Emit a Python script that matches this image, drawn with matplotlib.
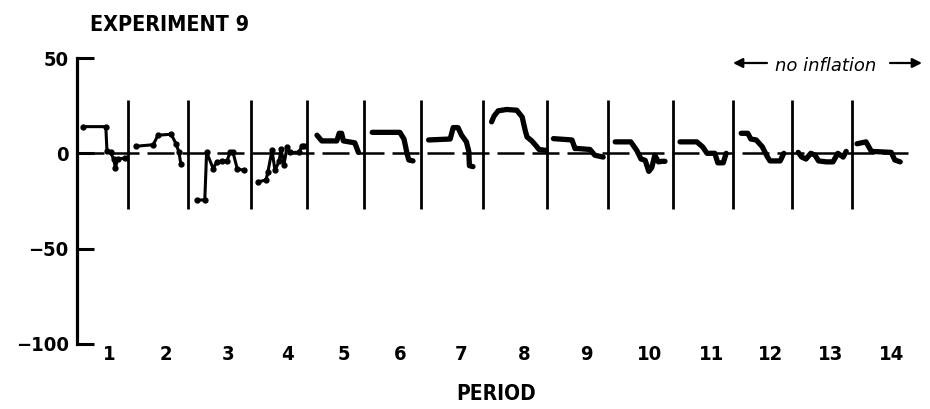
"""Experiment 9: price deviation traces per trading period (recreated figure)."""

import matplotlib
matplotlib.use("Agg")
import matplotlib.pyplot as plt  # noqa: E402
from matplotlib import font_manager  # noqa: E402
from matplotlib.font_manager import FontProperties  # noqa: E402

# ---------------------------------------------------------------------------
# Data
# ---------------------------------------------------------------------------

# period boundaries on the trading-time axis (start of period 1 ... end of 14)
BOUNDS = [0, 8.5, 18.5, 29.0, 38.4, 47.8, 57.3, 67.7, 78.3, 88.5,
          99.3, 109.3, 119.2, 129.2, 139.5]
PERIODS = [str(i) for i in range(1, 15)]

Y_TICKS = [50, 0, -50, -100]
Y_TICK_LABELS = ["50", "0", "\u221250", "\u2212100"]

# contract time / deviation from equilibrium, one pair per period
T_1 = [1.0, 4.8, 5.0, 5.6, 6.1, 6.4, 6.8, 8.0]
V_1 = [14, 14, 1, 0.5, -3, -7.5, -3, -2.5]
T_2 = [9.8, 12.7, 13.5, 15.7, 16.5, 17.0, 17.3]
V_2 = [3.7, 4.5, 9.5, 10, 5, 0.5, -5.5]
T_3 = [20.0, 21.3, 21.6, 22.7, 23.3, 24.2, 25.0, 25.5, 26.0, 26.7, 27.8]
V_3 = [-24.5, -24.5, 0.5, -8, -4.5, -4, -4, 0.5, 0.5, -8, -9]
T_4 = [30.2, 31.5, 31.8, 32.5, 33.0, 33.7, 34.0, 34.5, 35.0, 35.5, 37.0, 37.5, 37.8]
V_4 = [-15, -14, -10, 1.5, -9, -4, 2.5, -6, 3.5, 0.5, 0.5, 4, 4]
T_5 = [40.0, 40.8, 43.3, 43.7, 44.1, 44.4, 46.3, 46.9]
V_5 = [9.5, 6.5, 6.5, 10.5, 10.5, 6.5, 5.5, 0.5]
T_6 = [49.2, 53.8, 54.5, 55.0, 55.3, 56.0]
V_6 = [11, 11, 7.5, 0, -3.5, -4]
T_7 = [58.6, 62.2, 62.7, 63.5, 64.1, 64.9, 65.3, 65.4, 66.0]
V_7 = [7, 7.5, 13.5, 13.5, 9.5, 6, 1, -6.5, -7]
T_8 = [69.1, 69.5, 70.2, 71.6, 73.3, 74.2, 74.7, 75.0, 75.8, 76.5, 77.0, 78.2]
V_8 = [16.5, 19.5, 22.3, 23, 22.6, 19, 12, 8.6, 6.5, 4, 2, 1.5]
T_9 = [79.4, 82.5, 83.0, 83.5, 85.5, 86.3, 87.7]
V_9 = [7.7, 7, 2.5, 2.5, 2, -1, -2]
T_10 = [89.7, 92.3, 93.3, 94.0, 94.7, 95.3, 95.8, 96.3, 96.9, 97.5, 98.0]
V_10 = [6, 6, 1.5, -3, -3.7, -9.5, -7.5, -1, -4.5, -4.2, -4.2]
T_11 = [100.5, 103.3, 104.3, 105.0, 106.3, 106.8, 107.7, 108.2]
V_11 = [6, 6, 3.3, 0, 0, -5, -5, 0]
T_12 = [110.7, 111.8, 112.3, 113.2, 114.2, 115.0, 115.5, 117.2, 117.8]
V_12 = [10.5, 10.5, 7.5, 7, 3.5, -1.5, -4, -4, 0]
T_13 = [120.2, 120.8, 121.5, 122.3, 123.0, 123.6, 124.9, 126.0, 126.8, 127.7, 128.2]
V_13 = [0.5, -2, -3, 0, -1, -4, -4.5, -4.5, 0, -2, 1]
T_14 = [130.0, 131.5, 132.4, 135.7, 136.3, 137.2]
V_14 = [5, 6, 1, 0.5, -3.5, -4.5]

TRACES = [(T_1, V_1), (T_2, V_2), (T_3, V_3), (T_4, V_4), (T_5, V_5),
          (T_6, V_6), (T_7, V_7), (T_8, V_8), (T_9, V_9), (T_10, V_10),
          (T_11, V_11), (T_12, V_12), (T_13, V_13), (T_14, V_14)]

ZERO_END = 138.5

# ---------------------------------------------------------------------------
# Fonts: prefer a condensed bold face if one is installed
# ---------------------------------------------------------------------------

def _condensed_bold() -> FontProperties:
    ttf = font_manager.fontManager.ttflist
    for f in ttf:
        if f.name == "Liberation Sans Narrow" and f.weight in ("bold", 700):
            return FontProperties(fname=f.fname)
    for f in ttf:
        low = f.fname.lower()
        if ("condensed" in low or "narrow" in low) and "bold" in low \
                and "oblique" not in low and "italic" not in low:
            return FontProperties(fname=f.fname)
    return FontProperties(family="Liberation Sans", weight="bold")


COND = _condensed_bold()

# ---------------------------------------------------------------------------
# Figure
# ---------------------------------------------------------------------------

W, H = 930, 409
fig = plt.figure(figsize=(W / 100, H / 100), dpi=100)
ax = fig.add_axes([77 / W, 1 - 343.8 / H, 837 / W, 285.75 / H])
ax.set_xlim(BOUNDS[0], BOUNDS[-1])
ax.set_ylim(-100, 50)

for side in ("top", "right", "bottom"):
    ax.spines[side].set_visible(False)
ax.spines["left"].set_linewidth(2.3)

ax.set_yticks(Y_TICKS, Y_TICK_LABELS)
ax.tick_params(axis="y", direction="in", length=12, width=2.2, pad=6)

label_pos = [a + 0.64 * (b - a) for a, b in zip(BOUNDS[:-1], BOUNDS[1:])]
ax.set_xticks(label_pos, PERIODS)
ax.tick_params(axis="x", length=0, pad=1)

for lbl in ax.get_yticklabels() + ax.get_xticklabels():
    lbl.set_fontproperties(COND)
    lbl.set_fontsize(14.5)

# zero reference line and period separators
ax.plot([BOUNDS[0], ZERO_END], [0, 0], color="black", lw=1.8,
        dashes=(10.8, 3.2), solid_capstyle="butt")
ax.vlines(BOUNDS[1:-1], -29, 28, color="black", lw=2.0)

# contract traces
for i, (t, v) in enumerate(TRACES):
    if i < 4:
        ax.plot(t, v, color="black", lw=2.2, marker="o", ms=3.5,
                solid_joinstyle="round", solid_capstyle="round")
    else:
        ax.plot(t, v, color="black", lw=3.8,
                solid_joinstyle="round", solid_capstyle="round")

fig.text(90 / W, 1 - 25 / H, "EXPERIMENT 9", fontproperties=COND,
         fontsize=15.5, ha="left", va="center")
fig.text(496 / W, 1 - 394 / H, "PERIOD", fontproperties=COND,
         fontsize=15, ha="center", va="center")

fig.text(826 / W, 1 - 66 / H, "no inflation", fontsize=13, style="italic",
         family="DejaVu Sans", ha="center", va="center")
arrow = dict(arrowstyle="-|>", lw=1.6, color="black", mutation_scale=14,
             shrinkA=0, shrinkB=0)
ax.annotate("", xy=(733 / W, 1 - 63 / H), xytext=(767 / W, 1 - 63 / H),
            xycoords="figure fraction", arrowprops=arrow)
ax.annotate("", xy=(922 / W, 1 - 63 / H), xytext=(890 / W, 1 - 63 / H),
            xycoords="figure fraction", arrowprops=arrow)

fig.savefig("out.png", dpi=100)
